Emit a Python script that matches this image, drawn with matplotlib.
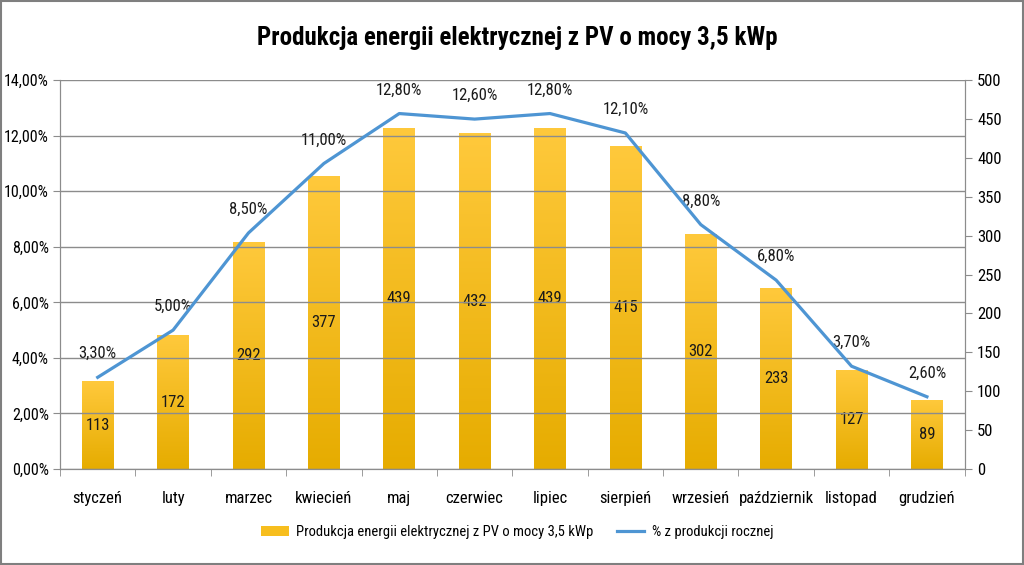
import matplotlib
matplotlib.use("Agg")
import matplotlib.pyplot as plt
import numpy as np
from matplotlib import font_manager
from matplotlib.colors import LinearSegmentedColormap
from matplotlib.lines import Line2D
from matplotlib.patches import Patch

months = ["styczeń", "luty", "marzec", "kwiecień", "maj", "czerwiec", "lipiec",
          "sierpień", "wrzesień", "październik", "listopad", "grudzień"]
production = [113, 172, 292, 377, 439, 432, 439, 415, 302, 233, 127, 89]
percent = [3.3, 5.0, 8.5, 11.0, 12.8, 12.6, 12.8, 12.1, 8.8, 6.8, 3.7, 2.6]
title = "Produkcja energii elektrycznej z PV o mocy 3,5 kWp"
bar_label = "Produkcja energii elektrycznej z PV o mocy 3,5 kWp"
line_label = "% z produkcji rocznej"

names = {f.name for f in font_manager.fontManager.ttflist}
fam = "DejaVu Sans"
for cand in ["Liberation Sans Narrow", "Roboto Condensed", "Open Sans Condensed", "Lato", "Roboto"]:
    if cand in names:
        fam = cand
        break
plt.rcParams['font.family'] = [fam, 'DejaVu Sans']

fig = plt.figure(figsize=(10.24, 5.65), dpi=100)
ax = fig.add_axes([0.0586, 0.170, 0.8834, 0.688])
ax2 = ax.twinx()

x = np.arange(len(months))
w = 0.42
FS = 11.5

# bars on right axis
bars = ax2.bar(x, production, width=w, color="#F7BE1E", zorder=2)
cmap = LinearSegmentedColormap.from_list("g", ["#E6AC00", "#FFC93C"])
grad = np.linspace(0, 1, 256).reshape(-1, 1)
for b in bars:
    x0, y0 = b.get_x(), b.get_y()
    im = ax2.imshow(grad, cmap=cmap, origin="lower", aspect="auto",
                    extent=[x0, x0 + b.get_width(), y0, y0 + b.get_height()], zorder=2)
    im.set_clip_path(b)
for xi, v in zip(x, production):
    ax2.text(xi, v / 2, str(v), ha="center", va="center", fontsize=FS + 0.5, color="#1a1a1a", zorder=4)

ax2.set_ylim(0, 500)
ax2.set_yticks(np.arange(0, 501, 50))
ax2.set_xlim(-0.5, 11.5)

# line on left axis
ax.plot(x, percent, color="#4E95D3", lw=2.3, zorder=5)
ax.set_ylim(0, 14)
ax.set_yticks(np.arange(0, 14.01, 2))
ax.set_yticklabels([f"{v:.2f}%".replace(".", ",") for v in np.arange(0, 14.01, 2)])
for xi, v in zip(x, percent):
    ax.text(xi, v + 0.85, f"{v:.2f}%".replace(".", ","), ha="center", va="center",
            fontsize=FS + 0.5, color="#1a1a1a")
ax.set_zorder(ax2.get_zorder() + 1)
ax.patch.set_visible(False)
ax.grid(axis="y", color="#8c8c8c", lw=1)
ax.set_axisbelow(True)

ax.set_xticks(x)
ax.set_xticklabels(months)
ax.set_xticks(np.arange(-0.5, 12, 1), minor=True)
ax.tick_params(axis="x", which="major", length=0, pad=16, labelsize=FS + 0.5)
ax.tick_params(axis="x", which="minor", length=5, color="#8c8c8c")
ax.tick_params(axis="y", labelsize=FS, color="#8c8c8c", length=5, pad=3)
ax2.tick_params(axis="y", labelsize=FS + 0.5, color="#8c8c8c", length=5, pad=4)
ax2.tick_params(axis="x", length=0)
for a in (ax, ax2):
    a.spines["top"].set_visible(False)
    a.spines["left"].set_color("#8c8c8c")
    a.spines["right"].set_color("#8c8c8c")
    a.spines["bottom"].set_color("#8c8c8c")

fig.text(0.505, 0.933, title, ha="center", va="center", fontsize=18, fontweight="bold")

handles = [Patch(facecolor="#F7BE1E", label=bar_label),
           Line2D([0], [0], color="#4E95D3", lw=2.3, label=line_label)]
fig.legend(handles=handles, loc="center", bbox_to_anchor=(0.505, 0.058), ncol=2,
           frameon=False, fontsize=10.5, handlelength=1.9, handletextpad=0.5,
           columnspacing=1.6, handleheight=0.6)

fig.patches.append(plt.Rectangle((0.001, 0.001), 0.998, 0.998, transform=fig.transFigure,
                                 fill=False, edgecolor="#7f7f7f", lw=1.5))
fig.savefig("out.png", dpi=100)
